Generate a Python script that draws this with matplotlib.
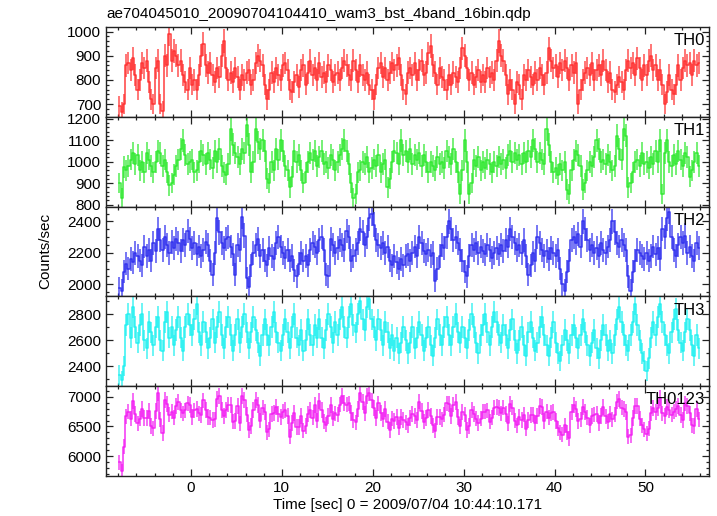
import numpy as np
import matplotlib
matplotlib.use("Agg")
import matplotlib.pyplot as plt
from matplotlib.ticker import MultipleLocator

plt.rcParams['font.family'] = ['Liberation Sans', 'DejaVu Sans']

title = "ae704045010_20090704104410_wam3_bst_4band_16bin.qdp"
xlabel = "Time [sec] 0 = 2009/07/04 10:44:10.171"
ylabel = "Counts/sec"
band_names = ["TH0", "TH1", "TH2", "TH3", "TH0123"]

t_start = -8.0
bin_width = 0.25

th0 = [
    690, 665, 700, 860, 870, 840, 890, 820,
    760, 800, 870, 850, 880, 790, 720, 700,
    850, 880, 700, 670, 900, 860, 990, 880,
    920, 900, 860, 880, 820, 790, 760, 850,
    780, 800, 760, 820, 900, 950, 860, 830,
    870, 820, 790, 850, 810, 900, 960, 850,
    800, 830, 790, 850, 810, 760, 820, 800,
    830, 840, 780, 800, 870, 900, 880, 860,
    780, 720, 760, 830, 790, 850, 820, 800,
    860, 870, 840, 760, 750, 790, 820, 770,
    840, 860, 780, 830, 880, 820, 850, 800,
    870, 810, 830, 790, 860, 840, 790, 820,
    830, 800, 850, 880, 860, 820, 800, 880,
    840, 790, 860, 820, 800, 830, 780, 760,
    720, 780, 850, 870, 810, 850, 800, 830,
    870, 840, 860, 890, 820, 760, 740, 830,
    850, 820, 870, 800, 840, 880, 820, 830,
    910, 940, 860, 830, 780, 850, 810, 800,
    760, 820, 780, 830, 810, 790, 850, 930,
    900, 850, 800, 830, 780, 810, 840, 790,
    820, 790, 850, 810, 830, 800, 880, 960,
    900, 880, 820, 740, 800, 760, 700, 790,
    780, 720, 820, 800, 840, 810, 780, 830,
    800, 850, 820, 780, 830, 930, 880, 850,
    860, 810, 870, 840, 880, 850, 800, 860,
    830, 870, 700, 760, 800, 830, 850, 820,
    870, 800, 840, 860, 820, 880, 840, 790,
    830, 760, 750, 780, 810, 790, 760, 840,
    880, 850, 870, 820, 890, 850, 800, 860,
    820, 880, 900, 840, 860, 800, 840, 780,
    700, 750, 820, 760, 740, 780, 860, 800,
    850, 880, 860, 870, 820, 880, 860, 870,
]

th1 = [
    900, 830, 975, 960, 980, 1010, 1040, 990,
    1030, 960, 1000, 950, 1040, 1010, 980, 950,
    1000, 1050, 1040, 980, 1010, 950, 890, 900,
    940, 980, 1010, 1060, 1100, 1030, 990, 1000,
    1010, 950, 960, 1000, 1050, 1030, 990, 1040,
    1010, 970, 1050, 1000, 1060, 980, 950, 940,
    990, 1150, 1080, 1040, 1020, 990, 1060, 1040,
    1170, 1080, 950, 1000, 1150, 1090, 1060, 1100,
    1050, 920, 900, 1000, 960, 1060, 1010, 1100,
    1050, 980, 960, 880, 930, 1050, 1000, 1030,
    960, 900, 950, 1000, 1040, 1010, 1050, 980,
    1020, 1050, 990, 1000, 970, 1030, 1010, 960,
    1000, 1030, 1060, 1100, 1050, 990, 900, 830,
    850, 950, 960, 1000, 990, 1020, 950, 970,
    1010, 980, 1030, 950, 990, 1010, 880, 920,
    1000, 1050, 1040, 990, 1100, 1030, 1050, 1000,
    1060, 990, 1030, 1010, 1040, 980, 1030, 1000,
    950, 1000, 980, 960, 1020, 990, 1000, 970,
    1050, 1020, 990, 1060, 1000, 950, 850, 960,
    1100, 1000, 850, 900, 1010, 980, 1020, 960,
    1000, 970, 1010, 990, 950, 1000, 980, 1020,
    990, 1010, 970, 1030, 1050, 1000, 1040, 1010,
    1030, 990, 1040, 1000, 1050, 1020, 1100, 1060,
    1000, 1040, 1010, 990, 1150, 1080, 1000, 950,
    970, 940, 990, 960, 1000, 870, 850, 960,
    1010, 1050, 1030, 980, 870, 900, 960, 1000,
    980, 1020, 1100, 1060, 1000, 1010, 990, 1030,
    1000, 960, 980, 1120, 1060, 1010, 1150, 1120,
    880, 900, 950, 1000, 1010, 980, 1040, 990,
    1000, 970, 1020, 990, 1050, 1000, 1100, 850,
    1040, 1100, 1000, 980, 1030, 990, 1050, 1010,
    980, 1040, 1020, 930, 960, 1000, 1040, 980,
]

th2 = [
    1975, 1960, 2080, 2130, 2100, 2160, 2140, 2200,
    2180, 2150, 2120, 2240, 2180, 2220, 2150, 2260,
    2210, 2350, 2280, 2220, 2300, 2250, 2200, 2270,
    2230, 2290, 2260, 2210, 2280, 2250, 2340, 2290,
    2230, 2260, 2190, 2240, 2180, 2220, 2270, 2250,
    2150, 2060, 2200, 2420, 2330, 2260, 2230, 2290,
    2300, 2240, 2190, 2060, 2250, 2220, 2430, 2310,
    2040, 1980, 2120, 2200, 2250, 2290, 2180, 2220,
    2150, 2120, 2230, 2180, 2160, 2260, 2300, 2240,
    2200, 2170, 2220, 2150, 2180, 2090, 2050, 2130,
    2200, 2150, 2180, 2120, 2220, 2260, 2240, 2200,
    2280, 2300, 2220, 2060, 2050, 2290, 2250, 2200,
    2230, 2280, 2250, 2220, 2340, 2300, 2150, 2180,
    2220, 2260, 2350, 2330, 2250, 2300, 2420, 2450,
    2380, 2280, 2250, 2230, 2260, 2200, 2240, 2150,
    2120, 2180, 2140, 2100, 2160, 2120, 2180, 2190,
    2150, 2200, 2240, 2180, 2300, 2260, 2210, 2190,
    2220, 2180, 2200, 2020, 2100, 2180, 2250, 2230,
    2300, 2400, 2350, 2280, 2300, 2260, 2220, 2150,
    2080, 2050, 2180, 2250, 2220, 2260, 2200, 2240,
    2210, 2190, 2250, 2220, 2170, 2200, 2230, 2190,
    2250, 2210, 2280, 2240, 2350, 2300, 2260, 2220,
    2250, 2200, 2280, 2180, 2060, 2120, 2200, 2150,
    2300, 2260, 2220, 2180, 2210, 2160, 2230, 2200,
    2180, 2220, 2100, 2000, 1960, 2080, 2150, 2280,
    2300, 2260, 2320, 2240, 2400, 2350, 2280, 2220,
    2250, 2200, 2230, 2180, 2260, 2220, 2200, 2240,
    2280, 2400, 2330, 2260, 2240, 2280, 2250, 2220,
    2050, 1960, 2080, 2150, 2220, 2200, 2180, 2160,
    2200, 2150, 2180, 2240, 2190, 2230, 2160, 2350,
    2300, 2420, 2460, 2300, 2220, 2180, 2250, 2300,
    2260, 2310, 2200, 2240, 2180, 2150, 2260, 2230,
]

th3 = [
    2330, 2290, 2400, 2720, 2800, 2620, 2860, 2700,
    2580, 2720, 2800, 2600, 2540, 2740, 2660, 2560,
    2700, 2780, 2600, 2520, 2740, 2820, 2620, 2700,
    2560, 2680, 2780, 2620, 2520, 2700, 2800, 2720,
    2640, 2760, 2880, 2660, 2560, 2740, 2660, 2540,
    2620, 2760, 2580, 2700, 2820, 2640, 2540, 2700,
    2780, 2640, 2520, 2640, 2760, 2580, 2700, 2800,
    2660, 2540, 2660, 2780, 2680, 2580, 2480, 2640,
    2760, 2640, 2560, 2700, 2820, 2660, 2580, 2520,
    2640, 2760, 2660, 2540, 2700, 2800, 2620, 2560,
    2680, 2520, 2600, 2760, 2640, 2560, 2720, 2620,
    2760, 2620, 2540, 2680, 2800, 2700, 2580, 2740,
    2640, 2760, 2860, 2700, 2620, 2780, 2880, 2720,
    2660, 2800, 2900, 2760, 2680, 2860, 2920, 2760,
    2700, 2600, 2760, 2680, 2560, 2740, 2660, 2540,
    2640, 2520, 2620, 2500, 2580, 2700, 2600, 2500,
    2580, 2700, 2540, 2620, 2740, 2640, 2520, 2620,
    2700, 2560, 2480, 2620, 2760, 2640, 2560, 2700,
    2780, 2640, 2560, 2700, 2800, 2660, 2580, 2700,
    2620, 2540, 2680, 2800, 2700, 2580, 2500, 2640,
    2720, 2800, 2660, 2560, 2700, 2820, 2740, 2640,
    2580, 2720, 2640, 2540, 2680, 2760, 2600, 2500,
    2600, 2700, 2560, 2480, 2660, 2740, 2620, 2520,
    2580, 2700, 2780, 2640, 2560, 2480, 2620, 2740,
    2580, 2500, 2440, 2560, 2680, 2600, 2500, 2640,
    2720, 2620, 2540, 2640, 2760, 2660, 2560, 2480,
    2580, 2680, 2540, 2460, 2600, 2720, 2640, 2520,
    2600, 2500, 2640, 2760, 2860, 2740, 2640, 2560,
    2520, 2640, 2740, 2880, 2720, 2600, 2500, 2440,
    2360, 2460, 2620, 2740, 2640, 2780, 2880, 2740,
    2640, 2560, 2500, 2660, 2760, 2840, 2680, 2580,
    2520, 2660, 2760, 2680, 2560, 2480, 2640, 2540,
]

# TH0123 is the sum of the four bands
th0123 = list(np.array(th0) + np.array(th1) + np.array(th2) + np.array(th3))

series = [th0, th1, th2, th3, th0123]
colors = ["#ff2a2a", "#2ae82a", "#2a2aee", "#1af0f0", "#f21af2"]
ylims = [(647, 1019), (791, 1209), (1923, 2494), (2246, 2938), (5663, 7180)]
major_steps = [100, 100, 200, 200, 500]
minor_steps = [20, 20, 50, 100, 100]
err_scale = 1.6

fig = plt.figure(figsize=(7.17, 5.16), dpi=100)
left, right, top, bottom = 106 / 717, 709 / 717, 1 - 27 / 516, 1 - 476 / 516
h = (top - bottom) / 5
axes = []
for i in range(5):
    ax = fig.add_axes([left, top - (i + 1) * h, right - left, h])
    axes.append(ax)
    v = np.array(series[i], dtype=float)
    t = t_start + bin_width * (np.arange(len(v)) + 0.5)
    err = err_scale * np.sqrt(v)
    ax.errorbar(t, v, yerr=err, fmt='none',
                ecolor=colors[i], elinewidth=1.2, alpha=0.75, capsize=0)
    ax.step(t, v, where='mid', color=colors[i], lw=1.1, alpha=0.9)
    ax.set_xlim(-9.35, 57.0)
    ax.set_ylim(*ylims[i])
    ax.yaxis.set_major_locator(MultipleLocator(major_steps[i]))
    ax.yaxis.set_minor_locator(MultipleLocator(minor_steps[i]))
    ax.xaxis.set_major_locator(MultipleLocator(10))
    ax.xaxis.set_minor_locator(MultipleLocator(2))
    ax.tick_params(which='both', direction='in', top=True, right=True,
                   labelsize=11, width=0.9, colors='#222222', labelcolor='black')
    ax.tick_params(which='major', length=5)
    ax.tick_params(which='minor', length=2.5)
    for sp in ax.spines.values():
        sp.set_linewidth(1.0)
        sp.set_color('#222222')
    if i < 4:
        ax.tick_params(labelbottom=False)
    ax.text(0.993, 0.93, band_names[i], transform=ax.transAxes, ha='right',
            va='top', fontsize=12)

axes[-1].set_xlabel(xlabel, fontsize=11, labelpad=2)
fig.text(45 / 717, 1 - 251 / 516, ylabel, rotation=90, ha='center',
         va='center', fontsize=11)
fig.text(left, 1 - 14 / 516, title, ha='left', va='center', fontsize=11)

fig.savefig("out.png", dpi=100)
